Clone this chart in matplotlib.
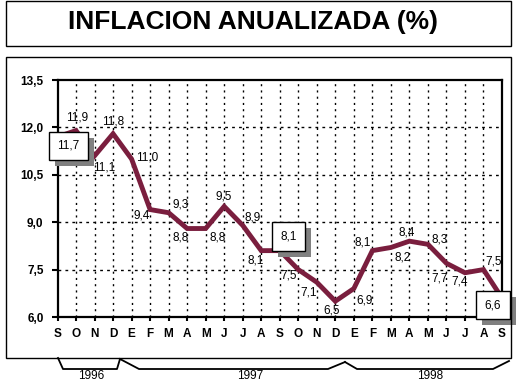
import matplotlib
matplotlib.use("Agg")
import matplotlib.pyplot as plt
from matplotlib.patches import Rectangle
from matplotlib.lines import Line2D

plt.rcParams['font.family'] = ['Liberation Sans', 'DejaVu Sans']

# ---- data ----
months = ["S", "O", "N", "D", "E", "F", "M", "A", "M", "J", "J", "A",
          "S", "O", "N", "D", "E", "F", "M", "A", "M", "J", "J", "A", "S"]
inflation = [11.7, 11.9, 11.1, 11.8, 11.0, 9.4, 9.3, 8.8, 8.8, 9.5, 8.9, 8.1,
             8.1, 7.5, 7.1, 6.5, 6.9, 8.1, 8.2, 8.4, 8.3, 7.7, 7.4, 7.5, 6.6]
yticks = [6.0, 7.5, 9.0, 10.5, 12.0, 13.5]
ytick_labels = ["6,0", "7,5", "9,0", "10,5", "12,0", "13,5"]
years = ["1996", "1997", "1998"]
boxed = [0, 12, 24]  # indices with boxed labels

# label offsets (pixels, +x right, +y down)
label_offsets = [(11, 9), (1, -13), (10, 12), (0, -12), (16, -2), (-8, 6),
                 (12, -8), (-7, 9), (12, 9), (0, -10), (10, -8), (-6, 10),
                 (9, -14), (-10, 6), (-8, 10), (-4, 9), (11, 12), (-10, -8),
                 (12, 10), (-3, -9), (12, -5), (-7, 15), (-5, 9), (10, -8),
                 (-9, 7)]

W, H = 516, 389
fig = plt.figure(figsize=(W / 100, H / 100), dpi=100)

def fx(px):
    return px / W

def fy(py):
    return 1 - py / H

# outer boxes
fig.add_artist(Rectangle((fx(6), fy(46)), fx(511) - fx(6), fy(1) - fy(46),
                         transform=fig.transFigure, fill=False, ec='black', lw=1))
fig.add_artist(Rectangle((fx(6), fy(358)), fx(511) - fx(6), fy(57) - fy(358),
                         transform=fig.transFigure, fill=False, ec='black', lw=1))

fig.text(fx(253), fy(22), "INFLACION ANUALIZADA (%)", ha='center', va='center',
         fontsize=19, fontweight='bold')

ax = fig.add_axes([fx(57.5), fy(317), fx(502) - fx(57.5), fy(80) - fy(317)])
x = list(range(len(inflation)))
ax.plot(x, inflation, color='#7A1E3E', lw=3.5, solid_joinstyle='miter', zorder=3,
        clip_on=False)
ax.set_xlim(0, len(inflation) - 1)
ax.set_ylim(yticks[0], yticks[-1])
ax.set_xticks(x)
ax.set_xticklabels(months, fontsize=8.5, fontweight='bold')
ax.set_yticks(yticks)
ax.set_yticklabels(ytick_labels, fontsize=8.5, fontweight='bold')
ax.tick_params(axis='x', direction='out', length=3, width=1.5, pad=5)
ax.tick_params(axis='y', direction='out', length=4, width=1.5, pad=6)
for s in ax.spines.values():
    s.set_linewidth(1.6)

for xi in x[1:-1]:
    ax.axvline(xi, color='black', lw=1, ls=(0, (1.5, 3)), zorder=1)
for yv in yticks[1:-1]:
    ax.axhline(yv, color='black', lw=1, ls=(0, (2, 3)), zorder=1)

boxed_anns = []
for i, (v, (dx, dy)) in enumerate(zip(inflation, label_offsets)):
    txt = f"{v:.1f}".replace('.', ',')
    if i in boxed:
        a = ax.annotate(txt, (i, v), xytext=(dx, -dy), textcoords='offset pixels',
                        ha='center', va='center', fontsize=8.5, color='black',
                        bbox=dict(boxstyle='square,pad=0.7', fc='white', ec='black', lw=1),
                        zorder=6, annotation_clip=False)
        boxed_anns.append(a)
    else:
        ax.annotate(txt, (i, v), xytext=(dx, -dy), textcoords='offset pixels',
                    ha='center', va='center', fontsize=8.5, color='black', zorder=4,
                    annotation_clip=False)

# drop shadows behind the boxed labels
fig.canvas.draw()
for a in boxed_anns:
    bb = a.get_bbox_patch().get_window_extent()
    sh = Rectangle((bb.x0 + 6, bb.y0 - 6), bb.width, bb.height, transform=None,
                   fc='#808080', ec='none', zorder=5)
    sh.set_clip_on(False)
    ax.add_artist(sh)

# year brackets
brackets = [
    [(58, 358), (63, 369), (117, 369), (120, 359)],
    [(120, 359), (139, 369), (328, 369), (345, 362)],
    [(345, 362), (357, 369), (493, 369), (509, 361)],
]
year_x = [91, 250, 430]
for pts, yr, xc in zip(brackets, years, year_x):
    fig.add_artist(Line2D([fx(p[0]) for p in pts], [fy(p[1]) for p in pts],
                          transform=fig.transFigure, color='black', lw=1.3))
    fig.text(fx(xc), fy(376), yr, ha='center', va='center', fontsize=8.5)

fig.savefig("out.png", dpi=100)
